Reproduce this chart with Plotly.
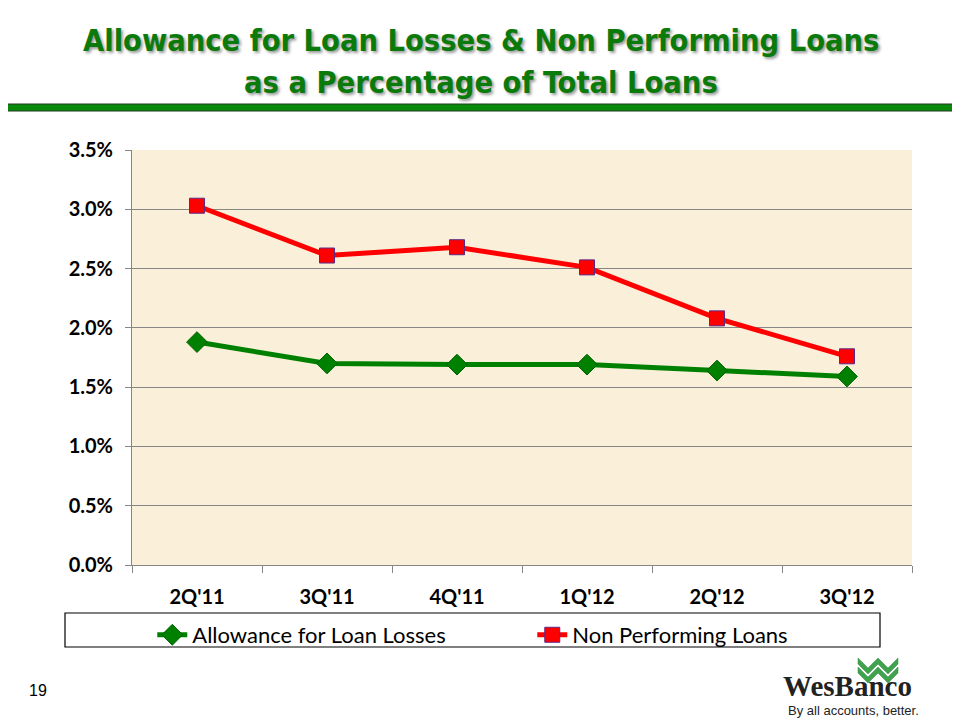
import plotly.graph_objects as go

quarters = ["2Q'11", "3Q'11", "4Q'11", "1Q'12", "2Q'12", "3Q'12"]
allowance = [1.88, 1.70, 1.69, 1.69, 1.64, 1.59]
npl = [3.03, 2.61, 2.68, 2.51, 2.08, 1.76]
y_ticks = [0.0, 0.5, 1.0, 1.5, 2.0, 2.5, 3.0, 3.5]

FONT = "Lato"

fig = go.Figure()
fig.add_trace(go.Scatter(
    x=quarters, y=allowance, name="Allowance for Loan Losses",
    mode="lines+markers",
    line=dict(color="#008000", width=5),
    marker=dict(symbol="diamond", size=16, color="#008000", line=dict(color="#006000", width=1)),
))
fig.add_trace(go.Scatter(
    x=quarters, y=npl, name="Non Performing Loans",
    mode="lines+markers",
    line=dict(color="#FF0000", width=5),
    marker=dict(symbol="square", size=15, color="#FF0000", line=dict(color="#5A2A8A", width=1)),
))

# the page body has an 8px margin, so the figure is 8px smaller and all is relative
fig.update_layout(
    width=952, height=712,
    margin=dict(l=124, r=48, t=142, b=155),
    paper_bgcolor="white",
    plot_bgcolor="#FAF0D9",
    font=dict(family=FONT, color="black"),
    showlegend=True,
    legend=dict(
        orientation="h", x=0.026, xanchor="left", y=-0.118, yanchor="top",
        bgcolor="rgba(0,0,0,0)", borderwidth=0,
        font=dict(family=FONT, size=22, color="black"),
        entrywidth=335, entrywidthmode="pixels",
    ),
    xaxis=dict(
        type="category", showgrid=False,
        showline=True, linecolor="#868686", linewidth=1,
        ticks="outside", tickson="boundaries", ticklen=7, tickcolor="#868686",
        tickfont=dict(family=FONT, size=20, color="black", weight="bold"),
        ticklabelstandoff=14,
        range=[-0.5, 5.5],
    ),
    yaxis=dict(
        range=[0, 3.5], tickvals=y_ticks,
        ticktext=[f"{v:.1f}%" for v in y_ticks],
        showgrid=True, gridcolor="#868686", gridwidth=1,
        showline=True, linecolor="#868686", linewidth=1,
        ticks="outside", ticklen=6, tickcolor="#868686",
        tickfont=dict(family=FONT, size=20, color="black", weight="bold"),
        ticklabelstandoff=8,
        zeroline=False,
    ),
)


def px(x):
    return (x - 132) / 780


def py(y):
    return (565 - y) / 415


# legend border box
fig.add_shape(type="rect", xref="paper", yref="paper",
              x0=px(65), x1=px(880), y0=py(647), y1=py(613),
              line=dict(color="black", width=1.2), fillcolor="rgba(0,0,0,0)")

# title (two lines)
title_font = dict(family="DejaVu Sans Condensed, Liberation Sans Narrow, Arial Narrow", size=30.5,
                  color="#0A7A0A", weight="bold", shadow="2px 2px 3px #9a9a9a")
fig.add_annotation(text="Allowance for Loan Losses & Non Performing Loans",
                   xref="paper", yref="paper", x=px(481), y=py(40),
                   xanchor="center", yanchor="middle", showarrow=False, font=title_font)
fig.add_annotation(text="as a Percentage of Total Loans",
                   xref="paper", yref="paper", x=px(481), y=py(82),
                   xanchor="center", yanchor="middle", showarrow=False, font=title_font)

# green bar under title
fig.add_shape(type="rect", xref="paper", yref="paper",
              x0=px(-10), x1=px(970), y0=py(111), y1=py(104),
              line=dict(color="#1F3D1F", width=1), fillcolor="#0A8A0A")

# page number
fig.add_annotation(text="19", xref="paper", yref="paper",
                   x=px(38), y=py(690),
                   xanchor="center", yanchor="middle", showarrow=False,
                   font=dict(family="Liberation Sans", size=16, color="black"))

# logo
fig.add_annotation(text="WesBanco", xref="paper", yref="paper",
                   x=px(847), y=py(686),
                   xanchor="center", yanchor="middle", showarrow=False,
                   font=dict(family="Liberation Serif", size=29, color="#222222", weight="bold"))
fig.add_annotation(text="By all accounts, better.", xref="paper", yref="paper",
                   x=px(853), y=py(710),
                   xanchor="center", yanchor="middle", showarrow=False,
                   font=dict(family="Liberation Sans", size=13, color="#222222"))
# W chevron icon
for dy in (0, 9):
    pts = [(858, 658 + dy), (868, 668 + dy), (878, 658 + dy), (888, 668 + dy), (898, 658 + dy),
           (898, 664 + dy), (888, 674 + dy), (878, 664 + dy), (868, 674 + dy), (858, 664 + dy)]
    path = "M " + " L ".join(f"{px(x)},{py(y)}" for x, y in pts) + " Z"
    fig.add_shape(type="path", xref="paper", yref="paper", path=path,
                  line=dict(color="#2E8B3A", width=0.5), fillcolor="#3FA34D")

fig.write_html("out.html")
